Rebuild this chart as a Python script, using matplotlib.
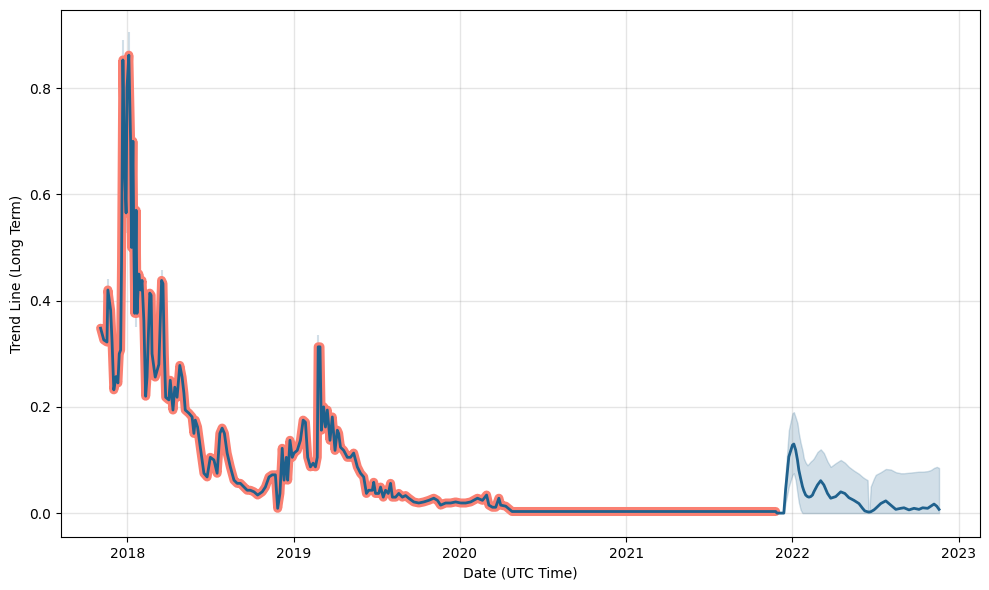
import matplotlib
matplotlib.use("Agg")
import matplotlib.pyplot as plt
import pandas as pd

# ---- historical (actual) series ----
hist_dates = [
    "2017-11-03", "2017-11-10", "2017-11-17", "2017-11-19", "2017-11-25", "2017-11-28",
    "2017-12-02", "2017-12-07", "2017-12-11", "2017-12-14", "2017-12-17", "2017-12-19",
    "2017-12-22", "2017-12-26", "2017-12-29", "2017-12-31", "2018-01-04", "2018-01-08",
    "2018-01-10", "2018-01-13", "2018-01-15", "2018-01-17", "2018-01-20", "2018-01-22",
    "2018-01-26", "2018-01-30", "2018-02-02", "2018-02-06", "2018-02-10", "2018-02-13",
    "2018-02-19", "2018-02-22", "2018-02-24", "2018-03-03", "2018-03-11", "2018-03-17",
    "2018-03-20", "2018-03-23", "2018-03-26", "2018-04-02", "2018-04-05", "2018-04-11",
    "2018-04-15", "2018-04-20", "2018-04-26", "2018-05-01", "2018-05-05", "2018-05-08",
    "2018-05-16", "2018-05-23", "2018-05-27", "2018-05-30", "2018-06-04", "2018-06-10",
    "2018-06-18", "2018-06-25", "2018-07-02", "2018-07-10", "2018-07-17", "2018-07-23",
    "2018-07-28", "2018-08-02", "2018-08-08", "2018-08-15", "2018-08-23", "2018-08-30",
    "2018-09-06", "2018-09-14", "2018-09-21", "2018-09-28", "2018-10-06", "2018-10-14",
    "2018-10-24", "2018-10-31", "2018-11-08", "2018-11-15", "2018-11-22", "2018-11-27",
    "2018-12-02", "2018-12-07", "2018-12-11", "2018-12-16", "2018-12-19", "2018-12-24",
    "2018-12-29", "2019-01-02", "2019-01-09", "2019-01-16", "2019-01-22", "2019-01-27",
    "2019-02-01", "2019-02-07", "2019-02-13", "2019-02-18", "2019-02-22", "2019-02-24",
    "2019-02-28", "2019-03-03", "2019-03-08", "2019-03-12", "2019-03-16", "2019-03-22",
    "2019-03-27", "2019-04-02", "2019-04-07", "2019-04-10", "2019-04-14", "2019-04-21",
    "2019-04-29", "2019-05-06", "2019-05-13", "2019-05-21", "2019-05-28", "2019-06-04",
    "2019-06-10", "2019-06-15", "2019-06-23", "2019-06-26", "2019-06-30", "2019-07-07",
    "2019-07-11", "2019-07-17", "2019-07-22", "2019-07-28", "2019-08-02", "2019-08-06",
    "2019-08-13", "2019-08-20", "2019-08-28", "2019-09-04", "2019-09-11", "2019-09-22",
    "2019-10-03", "2019-10-14", "2019-10-25", "2019-11-05", "2019-11-13", "2019-11-20",
    "2019-12-01", "2019-12-12", "2019-12-23", "2020-01-03", "2020-01-14", "2020-01-25",
    "2020-02-09", "2020-02-20", "2020-02-29", "2020-03-05", "2020-03-13", "2020-03-20",
    "2020-03-27", "2020-03-31", "2020-04-11", "2020-04-18", "2020-04-25", "2021-11-25",
]
hist_values = [
    0.348, 0.326, 0.322, 0.420, 0.382, 0.326,
    0.232, 0.257, 0.245, 0.300, 0.307, 0.470,
    0.853, 0.640, 0.565, 0.800, 0.862, 0.696,
    0.500, 0.700, 0.508, 0.376, 0.570, 0.376,
    0.450, 0.420, 0.438, 0.363, 0.220, 0.256,
    0.414, 0.410, 0.300, 0.256, 0.280, 0.438,
    0.432, 0.300, 0.218, 0.213, 0.250, 0.194,
    0.237, 0.218, 0.278, 0.256, 0.226, 0.194,
    0.188, 0.181, 0.150, 0.175, 0.162, 0.124,
    0.075, 0.068, 0.105, 0.100, 0.075, 0.150,
    0.160, 0.150, 0.113, 0.087, 0.062, 0.056,
    0.056, 0.049, 0.043, 0.043, 0.040, 0.034,
    0.040, 0.049, 0.068, 0.072, 0.072, 0.009,
    0.037, 0.122, 0.062, 0.105, 0.062, 0.137,
    0.105, 0.113, 0.118, 0.137, 0.175, 0.171,
    0.105, 0.087, 0.094, 0.087, 0.105, 0.313,
    0.313, 0.156, 0.200, 0.162, 0.194, 0.137,
    0.181, 0.118, 0.156, 0.150, 0.124, 0.118,
    0.105, 0.105, 0.113, 0.087, 0.075, 0.068,
    0.037, 0.043, 0.043, 0.058, 0.037, 0.037,
    0.049, 0.030, 0.043, 0.037, 0.056, 0.030,
    0.030, 0.037, 0.030, 0.033, 0.028, 0.021,
    0.019, 0.021, 0.024, 0.028, 0.024, 0.015,
    0.019, 0.019, 0.021, 0.019, 0.019, 0.021,
    0.028, 0.024, 0.034, 0.015, 0.011, 0.011,
    0.028, 0.015, 0.013, 0.008, 0.003, 0.003,
]

# ---- uncertainty spikes visible in the historical fit ----
spike_dates = ["2017-11-19", "2017-12-22", "2018-01-04", "2017-12-29", "2018-01-20", "2018-03-18", "2019-02-24"]
spike_low = [0.40, 0.80, 0.80, 0.527, 0.350, 0.42, 0.30]
spike_high = [0.44, 0.89, 0.905, 0.60, 0.57, 0.457, 0.335]

# ---- forecast ----
fc_dates = [
    "2021-11-28", "2021-12-13", "2021-12-17", "2021-12-24", "2022-01-01", "2022-01-04",
    "2022-01-08", "2022-01-12", "2022-01-15", "2022-01-19", "2022-01-23", "2022-01-26",
    "2022-01-30", "2022-02-03", "2022-02-06", "2022-02-10", "2022-02-14", "2022-02-17",
    "2022-02-25", "2022-03-04", "2022-03-11", "2022-03-19", "2022-03-26", "2022-04-06",
    "2022-04-17", "2022-04-26", "2022-05-05", "2022-05-16", "2022-05-27", "2022-06-04",
    "2022-06-09", "2022-06-15", "2022-06-17", "2022-06-19", "2022-06-22", "2022-06-29",
    "2022-07-03", "2022-07-14", "2022-07-25", "2022-08-05", "2022-08-16", "2022-08-27",
    "2022-09-03", "2022-09-14", "2022-09-25", "2022-10-06", "2022-10-14", "2022-10-25",
    "2022-11-01", "2022-11-08", "2022-11-14", "2022-11-19",
]
fc_yhat = [
    0.000, 0.000, 0.045, 0.106, 0.128, 0.130,
    0.119, 0.100, 0.081, 0.065, 0.050, 0.042,
    0.034, 0.031, 0.030, 0.031, 0.034, 0.040,
    0.053, 0.061, 0.053, 0.037, 0.028, 0.031,
    0.040, 0.037, 0.029, 0.024, 0.018, 0.009,
    0.004, 0.0025, 0.002, 0.002, 0.0025, 0.006,
    0.009, 0.018, 0.023, 0.015, 0.007, 0.009,
    0.010, 0.006, 0.009, 0.007, 0.010, 0.009,
    0.013, 0.017, 0.013, 0.007,
]
fc_lower = [
    0.000, 0.000, 0.020, 0.050, 0.072, 0.075,
    0.062, 0.037, 0.020, 0.006, 0.000, 0.000,
    0.000, 0.000, 0.000, 0.000, 0.000, 0.000,
    0.000, 0.000, 0.000, 0.000, 0.000, 0.000,
    0.000, 0.000, 0.000, 0.000, 0.000, 0.000,
    0.000, 0.000, 0.000, 0.000, 0.000, 0.000,
    0.000, 0.000, 0.000, 0.000, 0.000, 0.000,
    0.000, 0.000, 0.000, 0.000, 0.000, 0.000,
    0.000, 0.000, 0.000, 0.000,
]
fc_upper = [
    0.002, 0.002, 0.075, 0.156, 0.188, 0.190,
    0.180, 0.169, 0.150, 0.132, 0.118, 0.103,
    0.095, 0.090, 0.093, 0.097, 0.100, 0.103,
    0.115, 0.120, 0.113, 0.097, 0.087, 0.094,
    0.100, 0.095, 0.087, 0.080, 0.074, 0.068,
    0.065, 0.062, 0.006, 0.006, 0.050, 0.065,
    0.072, 0.077, 0.083, 0.082, 0.077, 0.075,
    0.075, 0.076, 0.077, 0.078, 0.078, 0.079,
    0.081, 0.085, 0.087, 0.085,
]

x_label = "Date (UTC Time)"
y_label = "Trend Line (Long Term)"

line_color = "#1f618d"
actual_color = "#fa8072"

hd = pd.to_datetime(hist_dates)
fd = pd.to_datetime(fc_dates)
sd = pd.to_datetime(spike_dates)

fig, ax = plt.subplots(figsize=(9.89, 5.9), dpi=100)
fig.subplots_adjust(left=61 / 989, right=980 / 989, top=1 - 10 / 590, bottom=1 - 537 / 590)

# actual values (thick salmon)
ax.plot(hd, hist_values, color=actual_color, lw=6.5, solid_capstyle="round",
        solid_joinstyle="round", zorder=2)
# uncertainty band
ax.vlines(sd, spike_low, spike_high, color=line_color, alpha=0.2, lw=1.5, zorder=1)
ax.fill_between(fd, fc_lower, fc_upper, color=line_color, alpha=0.2, lw=1, zorder=1)
# fitted/forecast line
all_d = list(hd) + list(fd)
all_y = list(hist_values) + list(fc_yhat)
ax.plot(all_d, all_y, color=line_color, lw=2, zorder=3)

ax.grid(True, which="major", color="gray", ls="-", lw=1, alpha=0.2)
ax.set_xlabel(x_label)
ax.set_ylabel(y_label)
ax.set_xlim(pd.Timestamp("2017-08-08"), pd.Timestamp("2023-02-17"))
ax.set_ylim(-0.045, 0.947)
ax.set_yticks([0.0, 0.2, 0.4, 0.6, 0.8])

fig.savefig("out.png", dpi=100)
